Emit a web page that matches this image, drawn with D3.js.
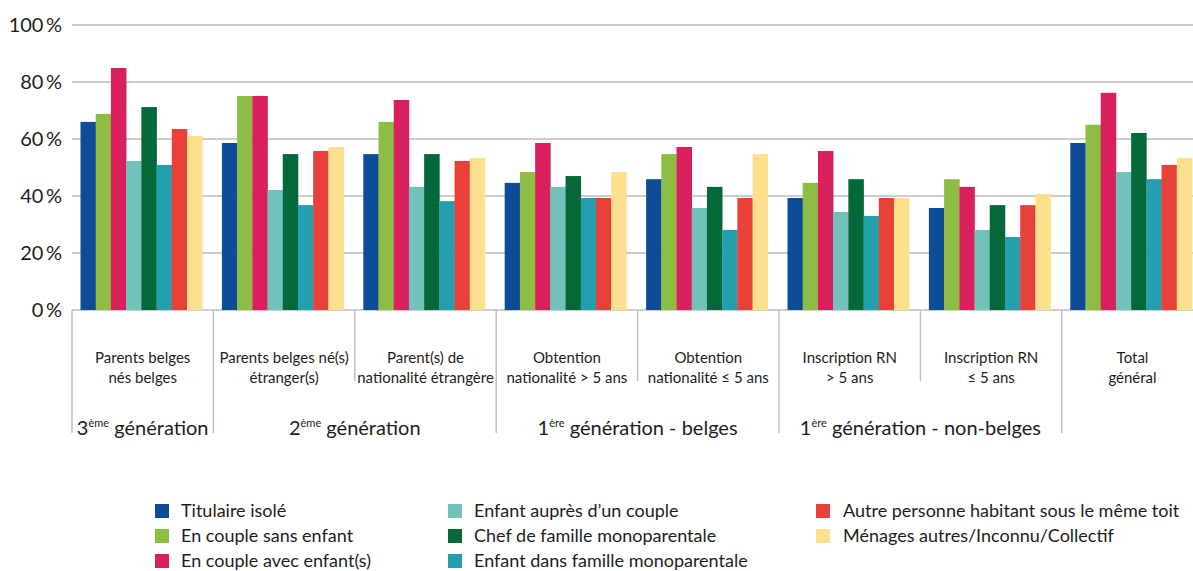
<!DOCTYPE html>
<html>
<head>
<meta charset="utf-8">
<script src="https://cdn.jsdelivr.net/npm/d3@7"></script>
<style>
  html, body { margin: 0; padding: 0; background: #fff; }
  svg { display: block; font-family: Lato, "Open Sans", sans-serif; }
</style>
</head>
<body>
<svg id="chart" width="1193" height="571"></svg>
<script>
// Categories (two text lines each)
const categories = [
  ["Parents belges", "nés belges"],
  ["Parents belges né(s)", "étranger(s)"],
  ["Parent(s) de", "nationalité étrangère"],
  ["Obtention", "nationalité > 5 ans"],
  ["Obtention", "nationalité ≤ 5 ans"],
  ["Inscription RN", "> 5 ans"],
  ["Inscription RN", "≤ 5 ans"],
  ["Total", "général"]
];

// Generation groups spanning category indices [from, to]
const generations = [
  { num: "3", sup: "ème", rest: " génération", from: 0, to: 0 },
  { num: "2", sup: "ème", rest: " génération", from: 1, to: 2 },
  { num: "1", sup: "ère", rest: " génération - belges", from: 3, to: 4 },
  { num: "1", sup: "ère", rest: " génération - non-belges", from: 5, to: 6 }
];

const seriesNames = [
  "Titulaire isolé",
  "En couple sans enfant",
  "En couple avec enfant(s)",
  "Enfant auprès d’un couple",
  "Chef de famille monoparentale",
  "Enfant dans famille monoparentale",
  "Autre personne habitant sous le même toit",
  "Ménages autres/Inconnu/Collectif"
];

const seriesColors = [
  "#0f4c97", "#8dbd43", "#d9205d", "#72c2bb",
  "#046838", "#239fae", "#e84139", "#fddf8e"
];

// Percentages per series, one value per category
const titulaireIsole      = [66.0, 58.6, 54.7, 44.6, 45.9, 39.3, 35.8, 58.6];
const coupleSansEnfant    = [68.8, 75.1, 66.0, 48.4, 54.7, 44.6, 45.9, 65.0];
const coupleAvecEnfants   = [84.9, 75.1, 73.7, 58.6, 57.2, 55.8, 43.2, 76.2];
const enfantCouple        = [52.3, 42.1, 43.2, 43.2, 35.8, 34.4, 28.1, 48.4];
const chefMonoparentale   = [71.2, 54.7, 54.7, 47.0, 43.2, 45.9, 36.8, 62.1];
const enfantMonoparentale = [50.9, 36.8, 38.2, 39.3, 28.1, 33.0, 25.6, 45.9];
const autrePersonne       = [63.5, 55.8, 52.3, 39.3, 39.3, 39.3, 36.8, 50.9];
const menagesAutres       = [61.1, 57.2, 53.3, 48.4, 54.7, 39.3, 40.7, 53.3];

const seriesValues = [
  titulaireIsole, coupleSansEnfant, coupleAvecEnfants, enfantCouple,
  chefMonoparentale, enfantMonoparentale, autrePersonne, menagesAutres
];

const yTicks = [0, 20, 40, 60, 80, 100];

const svg = d3.select("#chart");
const W = 1193;
const plotLeft = 72, plotTop = 25, plotBottom = 310;
const bandW = 141.4;

const x0 = d3.scaleBand()
  .domain(d3.range(categories.length))
  .range([plotLeft, plotLeft + bandW * categories.length])
  .padding(0);

const x1 = d3.scaleBand()
  .domain(d3.range(seriesNames.length))
  .range([8.5, 130.2])
  .padding(0);

const y = d3.scaleLinear().domain([0, 100]).range([plotBottom, plotTop]);

const textColor = "#1d1d1b";
const gridColor = "#bdbdbd";

// Horizontal gridlines
svg.append("g")
  .selectAll("line")
  .data(yTicks)
  .join("line")
  .attr("x1", plotLeft)
  .attr("x2", W)
  .attr("y1", d => y(d))
  .attr("y2", d => y(d))
  .attr("stroke", gridColor)
  .attr("stroke-width", 1.4);

// Y axis labels
svg.append("g")
  .selectAll("text")
  .data(yTicks)
  .join("text")
  .attr("x", 62)
  .attr("y", d => y(d))
  .attr("dy", "0.36em")
  .attr("text-anchor", "end")
  .attr("font-size", 20)
  .attr("fill", textColor)
  .text(d => d + "\u2009%");

// Category separators (long ones between generations, short ones inside)
const boundaries = d3.range(categories.length).map(i => ({
  x: x0(i),
  long: i === 0 || generations.some(g => g.from === i) || i === categories.length - 1
}));

svg.append("g")
  .selectAll("line")
  .data(boundaries)
  .join("line")
  .attr("x1", d => d.x)
  .attr("x2", d => d.x)
  .attr("y1", plotBottom)
  .attr("y2", d => d.long ? 433 : 381)
  .attr("stroke", gridColor)
  .attr("stroke-width", 1.4);

// Bars
const groups = svg.append("g")
  .selectAll("g")
  .data(categories.map((c, i) => i))
  .join("g")
  .attr("transform", i => `translate(${x0(i)},0)`);

groups.selectAll("rect")
  .data(i => seriesValues.map((vals, s) => ({ s, v: vals[i] })))
  .join("rect")
  .attr("x", d => x1(d.s))
  .attr("width", x1.bandwidth() + 0.3)
  .attr("y", d => y(d.v))
  .attr("height", d => y(0) - y(d.v))
  .attr("fill", d => seriesColors[d.s]);

// Category labels
const catLabels = svg.append("g")
  .selectAll("text")
  .data(categories.map((c, i) => ({ c, i })))
  .join("text")
  .attr("text-anchor", "middle")
  .attr("font-size", 15)
  .attr("fill", textColor)
  .attr("x", d => x0(d.i) + x0.bandwidth() / 2);

catLabels.selectAll("tspan")
  .data(d => d.c.map((line, k) => ({ line, k, cx: x0(d.i) + x0.bandwidth() / 2 })))
  .join("tspan")
  .attr("x", d => d.cx)
  .attr("y", d => 363 + d.k * 20)
  .text(d => d.line);

// Generation labels
const genLabels = svg.append("g")
  .selectAll("text")
  .data(generations)
  .join("text")
  .attr("text-anchor", "middle")
  .attr("font-size", 20)
  .attr("fill", textColor)
  .attr("x", g => (x0(g.from) + x0(g.to) + x0.bandwidth()) / 2)
  .attr("y", 435);

genLabels.append("tspan").text(g => g.num);
genLabels.append("tspan")
  .attr("font-size", 11)
  .attr("dy", -8)
  .text(g => g.sup);
genLabels.append("tspan")
  .attr("dy", 8)
  .text(g => g.rest);

// Legend, filled column by column (3 rows)
const legendCols = [155, 448, 816];
const legendRows = [511, 536, 561];

const legend = svg.append("g")
  .selectAll("g")
  .data(seriesNames.map((name, i) => ({ name, i })))
  .join("g")
  .attr("transform", d => `translate(${legendCols[Math.floor(d.i / 3)]},${legendRows[d.i % 3]})`);

legend.append("rect")
  .attr("x", 0)
  .attr("y", -7)
  .attr("width", 14)
  .attr("height", 14)
  .attr("fill", d => seriesColors[d.i]);

legend.append("text")
  .attr("x", d => Math.floor(d.i / 3) === 2 ? 27 : 26)
  .attr("y", 0)
  .attr("dy", "0.35em")
  .attr("font-size", 18)
  .attr("fill", textColor)
  .text(d => d.name);
</script>
</body>
</html>
